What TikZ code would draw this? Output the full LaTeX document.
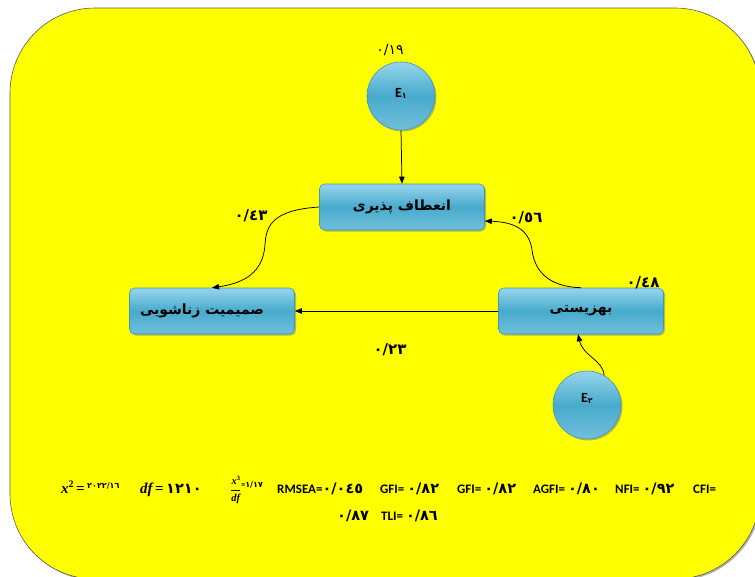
\documentclass[tikz,border=0pt]{standalone}
\usepackage{fontspec}
\setmainfont{Carlito}
\newfontfamily\arabicfont[Script=Arabic]{DejaVu Sans}
\newfontfamily\serifbi{Liberation Serif}[BoldItalicFont=* Bold Italic]
\TeXXeTstate=1
\usetikzlibrary{shadows,arrows.meta,calc}
\definecolor{bgyellow}{RGB}{255,255,0}
\definecolor{btop}{RGB}{150,213,235}
\definecolor{bmid}{RGB}{72,170,204}
\definecolor{bbot}{RGB}{112,192,220}
\definecolor{bborder}{RGB}{60,150,185}
\tikzset{
  shade3/.style={top color=btop, bottom color=bbot, middle color=bmid, draw=bborder, line width=0.6pt,
    drop shadow={shadow xshift=1.5pt, shadow yshift=-1.5pt, opacity=0.55}},
  varbox/.style={shade3, rectangle, rounded corners=5pt, minimum width=165pt, minimum height=46pt,
    inner sep=0pt, font=\arabicfont\bfseries\fontsize{14}{16}\selectfont},
  errnode/.style={shade3, circle, minimum size=68pt, inner sep=0pt, font=\bfseries\fontsize{14}{16}\selectfont},
  arr/.style={-{Triangle[length=7pt,width=5.5pt]}, line width=0.75pt, black},
  coef/.style={font=\arabicfont\bfseries\fontsize{15}{17}\selectfont, inner sep=0pt},
  coefr/.style={font=\arabicfont\fontsize{14}{16}\selectfont, inner sep=0pt},
  fit/.style={anchor=base west, inner sep=0pt, font=\bfseries\fontsize{13}{15}\selectfont},
}
\newcommand{\ad}[1]{{\arabicfont\bfseries\fontsize{14.5}{16}\selectfont #1}}
\newcommand{\sd}[1]{{\arabicfont\fontsize{8}{9}\selectfont #1}}
\newcommand{\mi}[1]{{\serifbi\bfseries\itshape\fontsize{15}{17}\selectfont #1}}
\newcommand{\ms}[1]{{\serifbi\bfseries\itshape\fontsize{10.5}{11}\selectfont #1}}
\newcommand{\meq}{{\serifbi\bfseries\fontsize{15}{17}\selectfont\,=\,}}
\begin{document}
\begin{tikzpicture}[x=1pt,y=-1pt]
\useasboundingbox (0,0) rectangle (755,576);
\fill[bgyellow, draw=black!65, line width=0.6pt, rounded corners=85pt,
  drop shadow={shadow xshift=1.5pt, shadow yshift=-1.5pt, opacity=0.6}] (10,8) rectangle (760,579);

% nodes
\node[errnode] (e1) at (401,96) {\raisebox{6pt}{E\raisebox{-1pt}{\sd{١}}}};
\node[varbox] (flex) at (402,207) {\raisebox{3pt}{\beginR انعطاف پذیری\endR}};
\node[varbox] (intim) at (212,311) {\hspace*{-20pt}\raisebox{3pt}{\beginR صمیمیت زناشویی\endR}};
\node[varbox] (wb) at (581,311) {\raisebox{3pt}{\beginR بهزیستی\endR}};
\node[errnode] (e2) at (587,405) {\raisebox{14pt}{E\raisebox{-1pt}{\sd{٢}}}};

% coefficient labels
\node[coefr] (l19) at (390,50) {٠/١٩};
\node[coef] (l43) at (251,216) {٠/٤٣};
\node[coef] (l56) at (526,218) {٠/٥٦};
\node[coef] (l48) at (643,283) {٠/٤٨};
\node[coef] (l23) at (390,350) {٠/٢٣};

% connectors
\draw[arr] (e1.south) -- (flex.north);
\draw[arr] (flex.west) .. controls (272,210) and (266,226) .. (265,245)
  .. controls (263,272) and (245,283) .. (intim.north);
\draw[arr] (wb.north) .. controls (552,287) and (535,274) .. (532,250)
  .. controls (529,228) and (512,222) .. ([yshift=-14pt]flex.east);
\draw[arr] (wb.west) -- (intim.east);
\draw[arr] (e2.60) .. controls (603,360) and (583,356) .. ([xshift=-3pt]wb.south);

% fit indices
\node[fit] (f1) at (61,493) {\mi{x}\raisebox{6pt}{\serifbi\bfseries\fontsize{10}{11}\selectfont 2}\meq\raisebox{5pt}{\sd{٢٠٢٢/١٦}}};
\node[fit] (f2) at (140,493) {\mi{df}\meq\ad{١٢١٠}};
\node[fit] (f3) at (230,493) {$\displaystyle\frac{\hbox{\ms{x}\raisebox{4pt}{\serifbi\bfseries\fontsize{6.5}{7}\selectfont 3}}}{\hbox{\ms{df}}}$\raisebox{6pt}{\fontsize{8}{9}\selectfont =\sd{١/١٧}}};
\node[fit] (f4) at (277,493) {RMSEA=\ad{٠/٠٤٥}};
\node[fit] (f5) at (380,493) {GFI= \ad{٠/٨٢}};
\node[fit] (f6) at (457,493) {GFI= \ad{٠/٨٢}};
\node[fit] (f7) at (533,493) {AGFI= \ad{٠/٨٠}};
\node[fit] (f8) at (615,493) {NFI= \ad{٠/٩٢}};
\node[fit] (f9) at (693,493) {CFI=};
\node[fit] (f10) at (337,520) {\ad{٠/٨٧}};
\node[fit] (f11) at (381,520) {TLI= \ad{٠/٨٦}};
\end{tikzpicture}
\end{document}
